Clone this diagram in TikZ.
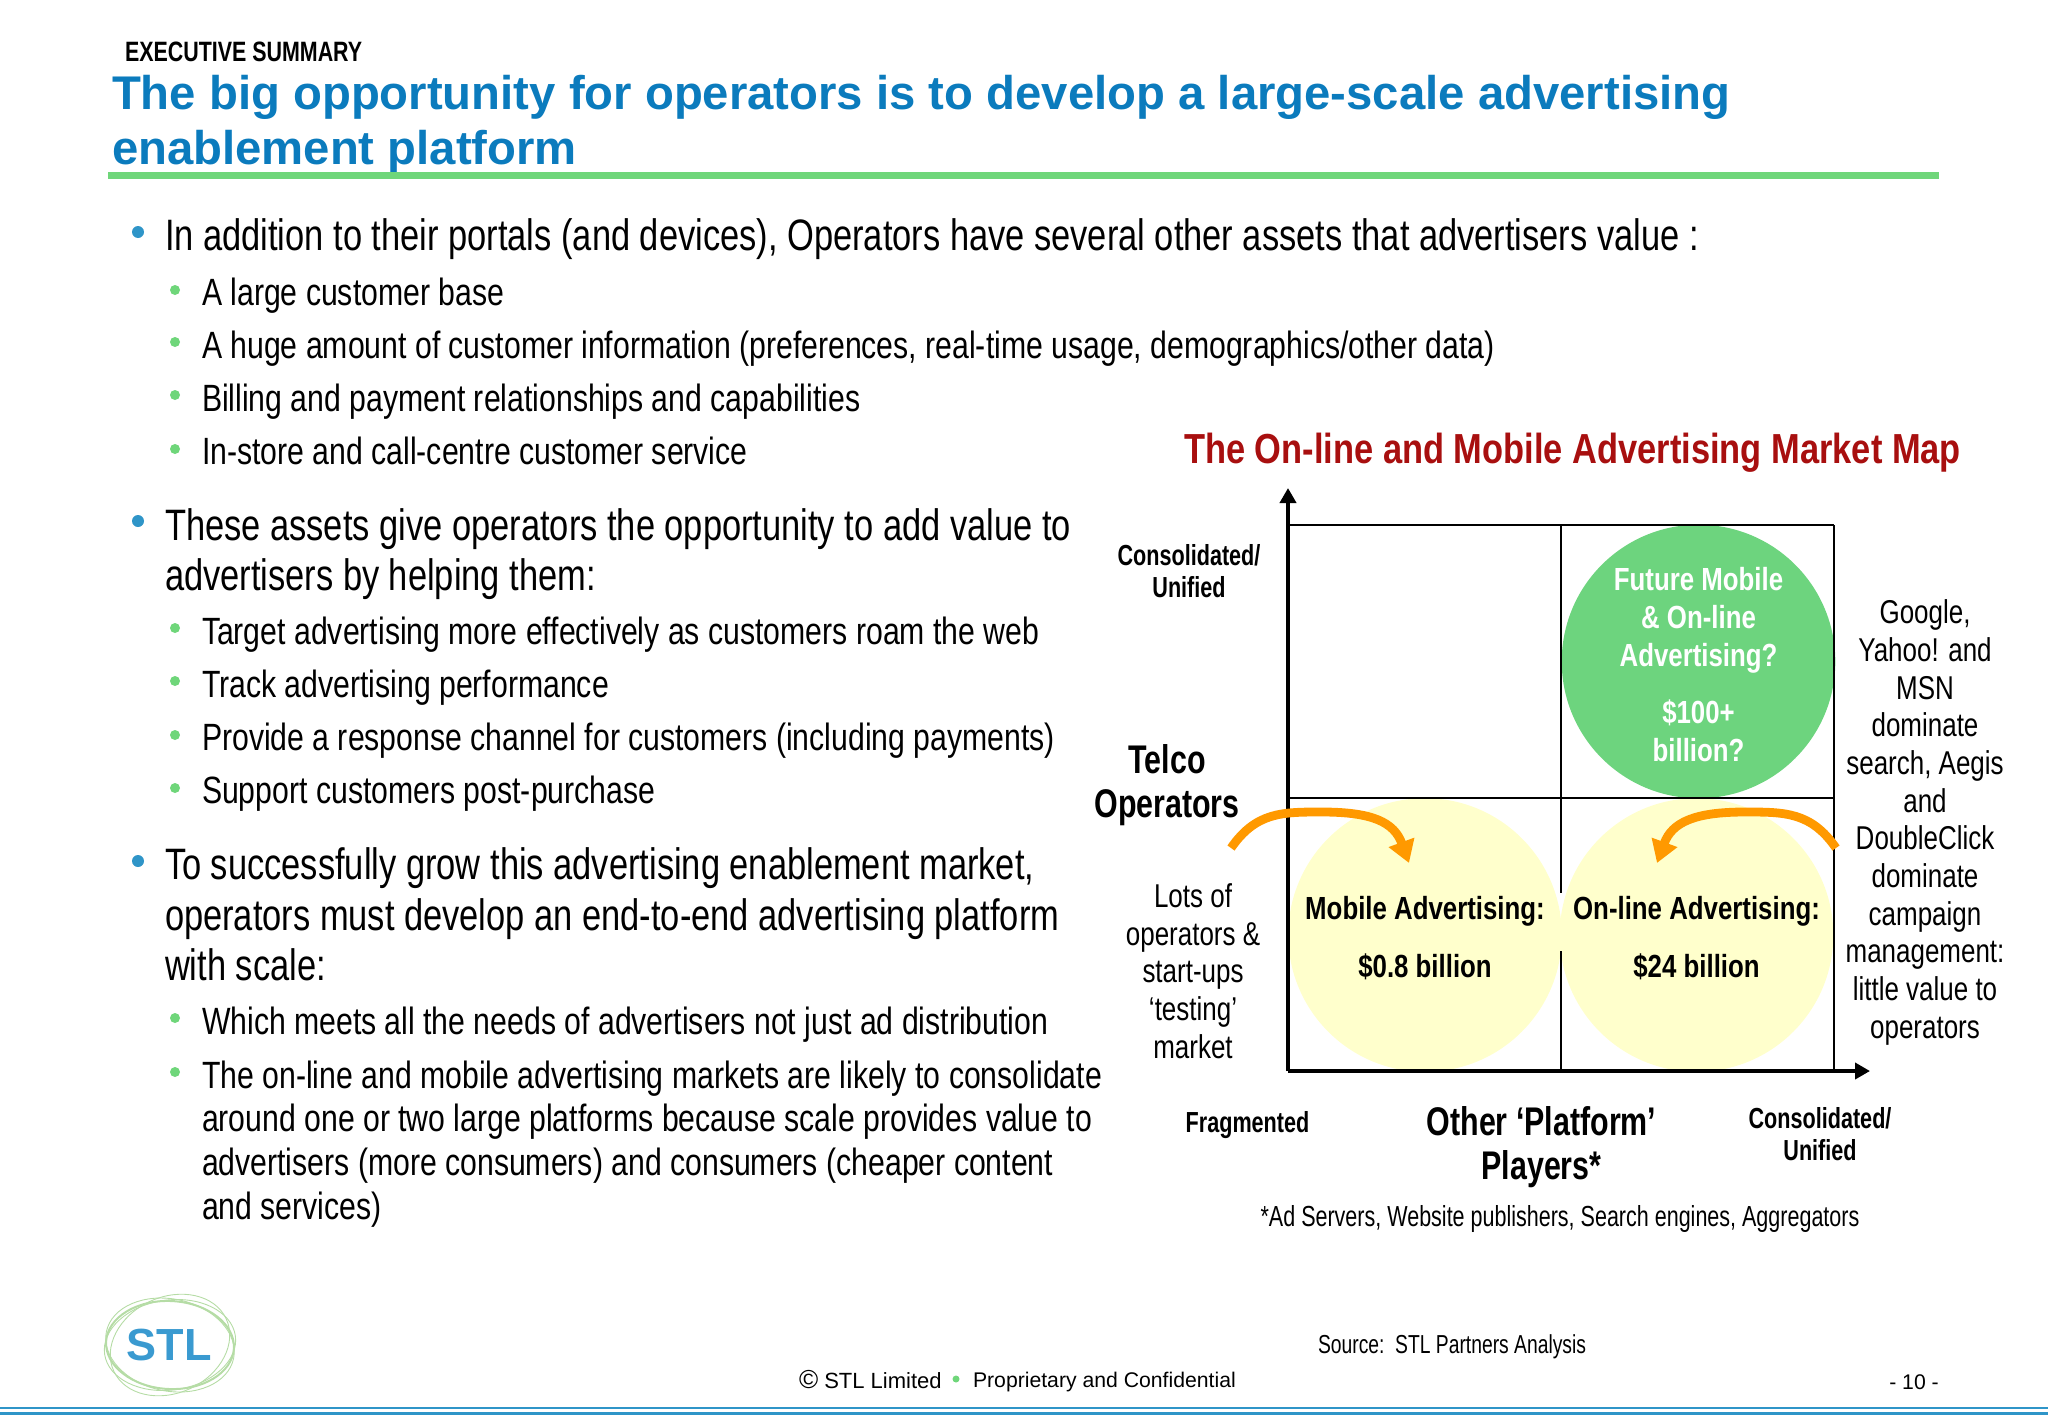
\documentclass[tikz,border=0pt]{standalone}
\usepackage{fontspec}
\usetikzlibrary{arrows.meta}
\setmainfont{Liberation Sans}
\newfontfamily\nar[FakeStretch=0.82]{Liberation Sans}
\newfontfamily\nmain[FakeStretch=0.783]{Liberation Sans}
\newfontfamily\nsub[FakeStretch=0.795]{Liberation Sans}
\newfontfamily\nlab[FakeStretch=0.745]{Liberation Sans}
\newfontfamily\nbig[FakeStretch=0.76]{Liberation Sans}
\newfontfamily\nside[FakeStretch=0.787]{Liberation Sans}
\newfontfamily\nbub[FakeStretch=0.807]{Liberation Sans}
\newfontfamily\nfoot[FakeStretch=0.742]{Liberation Sans}
\newfontfamily\nexec[FakeStretch=0.765]{Liberation Sans}
\definecolor{titleblue}{HTML}{0B7BBD}
\definecolor{bargreen}{HTML}{6FD67A}
\definecolor{circgreen}{HTML}{6DD47E}
\definecolor{paleyellow}{HTML}{FFFFCC}
\definecolor{mapred}{HTML}{A80F0F}
\definecolor{arrorange}{HTML}{FF9900}
\definecolor{bulblue}{HTML}{2F95C8}
\definecolor{logogreen}{HTML}{B5DCA5}
\definecolor{logoblue}{HTML}{3A9AD0}
\tikzset{
  every node/.style={inner sep=0pt,outer sep=0pt,text=black},
  main/.style={anchor=base west,align=left,font=\nmain\fontsize{22}{25.2}\selectfont},
  sub/.style={anchor=base west,align=left,font=\nsub\fontsize{19}{22}\selectfont},
  mainblk/.style={anchor=north west,align=left,font=\nmain\fontsize{22}{25.2}\selectfont},
  subblk/.style={anchor=north west,align=left,font=\nsub\fontsize{19}{21.9}\selectfont},
  bulm/.style={circle,fill=bulblue,minimum size=6pt},
  buls/.style={circle,fill=bargreen,minimum size=5pt},
  ctr/.style={anchor=center,align=center},
  lab/.style={ctr,font=\nlab\bfseries\fontsize{14.5}{16}\selectfont},
  big/.style={ctr,font=\nbig\bfseries\fontsize{20}{22}\selectfont},
  side/.style={ctr,font=\nside\fontsize{16.5}{18.85}\selectfont},
  bubble/.style={circle,minimum size=136.8pt,align=center},
  axis/.style={line width=2.4pt,-{Triangle[length=7.5pt,width=8pt]}},
  grid1/.style={line width=1.4pt},
  grid2/.style={line width=1pt},
  orange/.style={draw=arrorange,line width=4.4pt,-{Triangle[length=11pt,width=13pt]}},
  logo/.style={draw=logogreen,line width=0.45pt},
}
\begin{document}
\begin{tikzpicture}[x=0.5pt,y=-0.5pt]
\useasboundingbox (0,0) rectangle (2048,1418);
% header
\node[anchor=base west,font=\nexec\bfseries\fontsize{14}{16}\selectfont] (exec) at (125,61.5) {EXECUTIVE SUMMARY};
\node[anchor=north west,align=left,font=\bfseries\fontsize{23.64}{27.5}\selectfont,text=titleblue] (title) at (112,75)
  {The big opportunity for operators is to develop a large-scale advertising\\enablement platform};
\fill[bargreen] (108,171.5) rectangle (1939,179);
% body
\node[bulm] (b1) at (138,232) {};
\node[main] (t1) at (165,250.5) {In addition to their portals (and devices), Operators have several other assets that advertisers value :};
\node[buls] (b1a) at (175,290) {};
\node[sub] (t1a) at (202,305) {A large customer base};
\node[buls] (b1b) at (175,342) {};
\node[sub] (t1b) at (202,358) {A huge amount of customer information (preferences, real-time usage, demographics/other data)};
\node[buls] (b1c) at (175,395) {};
\node[sub] (t1c) at (202,411) {Billing and payment relationships and capabilities};
\node[buls] (b1d) at (175,449) {};
\node[sub] (t1d) at (202,464) {In-store and call-centre customer service};
\node[bulm] (b2) at (138,521) {};
\node[mainblk] (t2) at (165,508.5) {These assets give operators the opportunity to add value to\\advertisers by helping them:};
\node[buls] (b2a) at (175,628) {};
\node[sub] (t2a) at (202,644) {Target advertising more effectively as customers roam the web};
\node[buls] (b2b) at (175,681) {};
\node[sub] (t2b) at (202,697) {Track advertising performance};
\node[buls] (b2c) at (175,735) {};
\node[sub] (t2c) at (202,750) {Provide a response channel for customers (including payments)};
\node[buls] (b2d) at (175,788) {};
\node[sub] (t2d) at (202,803) {Support customers post-purchase};
\node[bulm] (b3) at (138,861) {};
\node[mainblk] (t3) at (165,848) {To successfully grow this advertising enablement market,\\operators must develop an end-to-end advertising platform\\with scale:};
\node[buls] (b3a) at (175,1018) {};
\node[sub] (t3a) at (202,1034) {Which meets all the needs of advertisers not just ad distribution};
\node[buls] (b3b) at (175,1072) {};
\node[subblk] (t3b) at (202,1060.5) {The on-line and mobile advertising markets are likely to consolidate\\around one or two large platforms because scale provides value to\\advertisers (more consumers) and consumers (cheaper content\\and services)};
% chart
\node[ctr,font=\nar\bfseries\fontsize{21}{24}\selectfont,text=mapred] (maptitle) at (1572.5,453) {The On-line and Mobile Advertising Market Map};
\node[bubble,fill=circgreen,text=white,font=\nbub\bfseries\fontsize{16}{19}\selectfont] (future) at (1698.5,661.5)
  {\rule{0pt}{14.5pt}\textcolor{white}{Future Mobile}\\\textcolor{white}{\& On-line}\\\textcolor{white}{Advertising?}\\[9.5pt]\textcolor{white}{\$100+}\\\textcolor{white}{billion?}};
\node[bubble,fill=paleyellow,font=\nbub\bfseries\fontsize{16}{29}\selectfont] (mobile) at (1425,935) {\rule{0pt}{14.5pt}Mobile Advertising:\\\$0.8 billion};
\node[bubble,fill=paleyellow,font=\nbub\bfseries\fontsize{16}{29}\selectfont] (online) at (1696.5,935) {\rule{0pt}{14.5pt}On-line Advertising:\\\$24 billion};
% grid
\coordinate (o) at (1288,1071);
\coordinate (ytip) at (1288,488);
\coordinate (xtip) at (1870,1071);
\coordinate (tl) at (1288,525); \coordinate (tm) at (1560.5,525); \coordinate (tr) at (1833.5,525);
\coordinate (ml) at (1288,798); \coordinate (mr) at (1833.5,798);
\coordinate (bm) at (1560.5,1071); \coordinate (br) at (1833.5,1071);
\coordinate (g1) at (1560.5,893); \coordinate (g2) at (1560.5,951);
\draw[grid1] (tl) -- (tr);
\draw[grid1] (ml) -- (mr);
\draw[grid2] (tm) -- (g1);
\draw[grid2] (g2) -- (bm);
\draw[grid2] (tr) -- (br);
\draw[axis] (o) -- (ytip);
\draw[axis] (o) -- (xtip);
% arrows
\coordinate (ls) at (1231,848); \coordinate (lm) at (1322,812); \coordinate (lt) at (1409,863);
\coordinate (rs) at (1836,848); \coordinate (rm) at (1745,812); \coordinate (rt) at (1657,863);
\draw[orange] (ls) .. controls (1256,812) and (1282,812) .. (lm) .. controls (1372,812) and (1394,822) .. (lt);
\draw[orange] (rs) .. controls (1811,812) and (1785,812) .. (rm) .. controls (1695,812) and (1672,822) .. (rt);
% labels
\node[lab] (cons1) at (1189,571) {Consolidated/\\Unified};
\node[big] (telco) at (1167,785.5) {Telco\\Operators};
\node[side] (lots) at (1193,971) {Lots of\\operators \&\\start-ups\\‘testing’\\market};
\node[side] (google) at (1925,822.5) {Google,\\Yahoo! and\\MSN\\dominate\\search, Aegis\\and\\DoubleClick\\dominate\\campaign\\management:\\little value to\\operators};
\node[lab] (frag) at (1247.5,1125) {Fragmented};
\node[big] (other) at (1541.5,1147) {Other ‘Platform’\\Players*};
\node[lab] (cons2) at (1820,1134) {Consolidated/\\Unified};
\node[ctr,font=\nfoot\fontsize{14.5}{16}\selectfont] (foot) at (1560,1219) {*Ad Servers, Website publishers, Search engines, Aggregators};
\node[anchor=base west,font=\nfoot\fontsize{13}{15}\selectfont] (src) at (1318,1353) {Source:\ \ STL Partners Analysis};
% footer
\node[anchor=base west,font=\fontsize{11}{14}\selectfont] (copy) at (799,1388) {{\fontsize{13}{14}\selectfont ©}\ STL Limited};
\node[circle,fill=bargreen,minimum size=3.5pt] (dot) at (956,1379) {};
\node[anchor=base west,font=\fontsize{10.6}{14}\selectfont] (prop) at (973,1387.5) {Proprietary and Confidential};
\node[ctr,font=\fontsize{10.6}{14}\selectfont] (page) at (1914,1382) {- 10 -};
% logo
\draw[logo] (170,1345) ellipse [x radius=66,y radius=45,rotate=8];
\draw[logo] (170,1345) ellipse [x radius=65,y radius=46,rotate=-12];
\draw[logo] (170,1345) ellipse [x radius=62,y radius=48,rotate=25];
\draw[logo,line width=1pt] (170,1345) ellipse [x radius=64,y radius=44,rotate=-3];
\node[anchor=center,font=\bfseries\fontsize{22.5}{24}\selectfont,text=logoblue] (stl) at (169,1345) {STL};
% bottom rules
\fill[bulblue] (0,1406.5) rectangle (2048,1409);
\fill[bulblue] (0,1412) rectangle (2048,1415);
\end{tikzpicture}
\end{document}
